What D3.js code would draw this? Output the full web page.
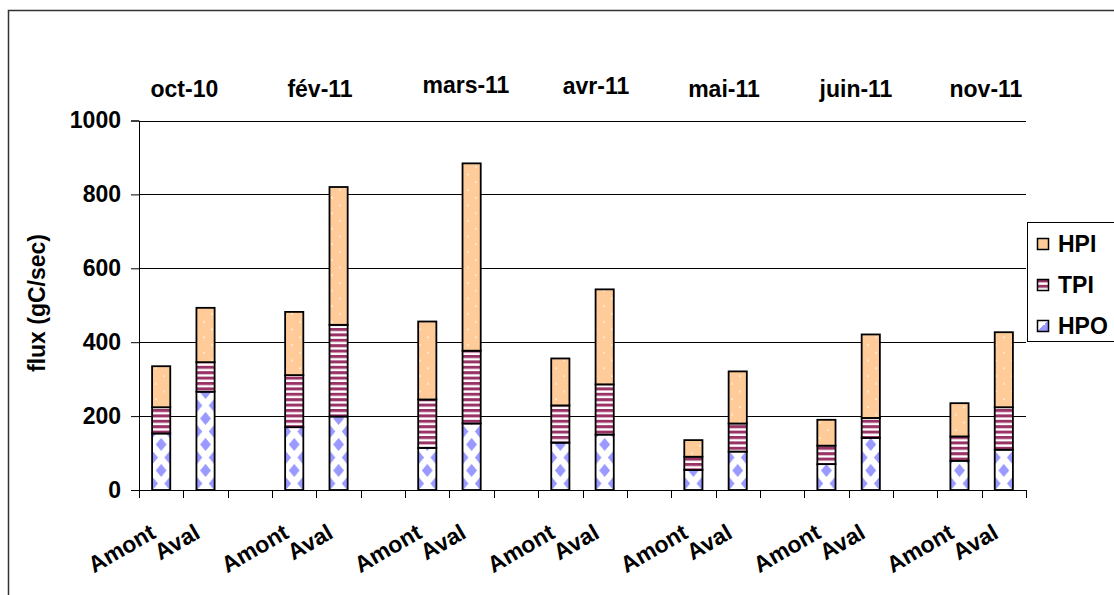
<!DOCTYPE html>
<html><head><meta charset="utf-8">
<script src="https://cdn.jsdelivr.net/npm/d3@7"></script>
<style>
html,body{margin:0;padding:0;background:#fff;}
svg{display:block;font-family:"Liberation Sans",Arial,sans-serif;font-weight:bold;}
</style></head>
<body>
<svg id="c" width="1114" height="595"></svg>
<script>
// ---- data ----
const months = ["oct-10","fév-11","mars-11","avr-11","mai-11","juin-11","nov-11"];
const sites = ["Amont","Aval"];
const seriesKeys = ["HPO","TPI","HPI"];
const HPO = [153,266, 170,199, 114,180, 128,150, 54,104, 70,141, 79,109];
const TPI = [71,80, 141,248, 131,197, 101,136, 36,76, 50,54, 66,115];
const HPI = [111,147, 171,373, 211,507, 127,257, 45,141, 70,226, 90,203];
const yTicks = [0,200,400,600,800,1000];
const yLabel = "flux (gC/sec)";
const legendOrder = ["HPI","TPI","HPO"];

// ---- build rows ----
const rows = [];
const domain = [];
months.forEach((m, g) => {
  sites.forEach((s, j) => {
    const i = g*2 + j;
    const key = m + "|" + s;
    domain.push(key);
    rows.push({key, month:m, site:s, HPO:HPO[i], TPI:TPI[i], HPI:HPI[i]});
  });
  if (g < months.length - 1) domain.push("gap" + g);
});

const FS = 23;
const svg = d3.select("#c");
const L = 139, R = 1026, T = 120.5, B = 490;
const x = d3.scaleBand().domain(domain).range([L, R]).paddingInner(0).paddingOuter(0);
const y = d3.scaleLinear().domain([0, 1000]).range([B, T]);
const barW = x.bandwidth() * 0.41;

// outer chart frame
svg.append("rect").attr("x", 8.5).attr("y", 10.5).attr("width", 1130).attr("height", 620)
  .attr("fill", "none").attr("stroke", "#333").attr("stroke-width", 1.5);

const defs = svg.append("defs");
// HPI dotted peach
const pHPI = defs.append("pattern").attr("id","pHPI").attr("patternUnits","userSpaceOnUse")
  .attr("width",16).attr("height",15.5);
pHPI.append("rect").attr("width",16).attr("height",15.5).attr("fill","#FFCC99");
pHPI.append("circle").attr("cx",4).attr("cy",4).attr("r",0.9).attr("fill","#FFF6E6");
pHPI.append("circle").attr("cx",12).attr("cy",11.75).attr("r",0.9).attr("fill","#FFF6E6");
// TPI stripes
const pTPI = defs.append("pattern").attr("id","pTPI").attr("patternUnits","userSpaceOnUse")
  .attr("width",8).attr("height",5.4).attr("y", B);
pTPI.append("rect").attr("width",8).attr("height",5.4).attr("fill","#fff");
pTPI.append("rect").attr("y",0).attr("width",8).attr("height",2.9).attr("fill","#993366");
pTPI.append("rect").attr("y",2.9).attr("width",8).attr("height",0.6).attr("fill","#d9a6bf");

// HPO diamonds: one pattern per bar, aligned to bar
function hpoPattern(id, x0, w) {
  const h = 26;
  const p = defs.append("pattern").attr("id", id).attr("patternUnits","userSpaceOnUse")
    .attr("x", x0).attr("y", B).attr("width", w).attr("height", h);
  p.append("rect").attr("width", w).attr("height", h).attr("fill", "#fff");
  const dx = 5.4, dy = 6.6;
  const dia = (cx, cy) => `M${cx},${cy-dy}L${cx+dx},${cy}L${cx},${cy+dy}L${cx-dx},${cy}Z`;
  p.append("path").attr("d", dia(w/2, 6.5)).attr("fill", "#9999FF");
  p.append("path").attr("d", dia(0.5, 19.5) + dia(w - 0.5, 19.5)).attr("fill", "#9999FF");
  return "url(#" + id + ")";
}

// gridlines
svg.append("g").selectAll("line").data(yTicks.filter(t => t > 0)).join("line")
  .attr("x1", L).attr("x2", R).attr("y1", d => Math.round(y(d)) + 0.5).attr("y2", d => Math.round(y(d)) + 0.5)
  .attr("stroke", "#000").attr("stroke-width", 1);

// stacked bars
const stack = d3.stack().keys(seriesKeys)(rows);
const fills = {HPI: "url(#pHPI)", TPI: "url(#pTPI)"};
const barsG = svg.append("g");
stack.forEach(layer => {
  barsG.append("g").selectAll("rect").data(layer).join("rect")
    .attr("x", d => x(d.data.key) + (x.bandwidth() - barW) / 2)
    .attr("width", barW)
    .attr("y", d => y(d[1]))
    .attr("height", d => y(d[0]) - y(d[1]))
    .attr("fill", (d, i) => layer.key === "HPO"
      ? hpoPattern("pHPO" + i, x(d.data.key) + (x.bandwidth() - barW) / 2, barW)
      : fills[layer.key])
    .attr("stroke", "#000").attr("stroke-width", 1.8);
});

// y axis
const yAxis = svg.append("g").attr("transform", `translate(${L},0)`)
  .call(d3.axisLeft(y).tickValues(yTicks).tickSize(8).tickPadding(10).tickFormat(d3.format("d")));
yAxis.select(".domain").attr("stroke", "#000");
yAxis.selectAll(".tick line").attr("stroke", "#000");
yAxis.selectAll("text").attr("font-size", FS).attr("font-weight", "bold")
  .attr("font-family", "Liberation Sans, Arial, sans-serif").attr("fill", "#000");

// x axis (ticks at category boundaries)
const bounds = domain.map(k => x(k)).concat([R]);
svg.append("line").attr("x1", L).attr("x2", R).attr("y1", B + 0.5).attr("y2", B + 0.5).attr("stroke", "#000");
svg.append("g").selectAll("line").data(bounds).join("line")
  .attr("x1", d => Math.round(d) + 0.5).attr("x2", d => Math.round(d) + 0.5)
  .attr("y1", B).attr("y2", B + 8).attr("stroke", "#000");

// x labels rotated
svg.append("g").selectAll("text").data(rows).join("text")
  .attr("transform", d => `translate(${x(d.key) + x.bandwidth() / 2 - 4},${537}) rotate(-30)`)
  .attr("text-anchor", "end").attr("font-size", FS).attr("fill", "#000")
  .text(d => d.site);

// month labels above groups
const monthNudge = [1, 3.6, 16.5, 13.5, 8.4, 7.4, 4.3];
const monthBase = [97, 97, 93, 94, 97, 97, 97];
svg.append("g").selectAll("text").data(months).join("text")
  .attr("x", (m, g) => x(m + "|Aval") + monthNudge[g])
  .attr("y", (m, g) => monthBase[g])
  .attr("text-anchor", "middle").attr("font-size", FS).attr("fill", "#000")
  .text(m => m);

// y label
svg.append("text").attr("transform", `translate(45,303) rotate(-90)`)
  .attr("text-anchor", "middle").attr("font-size", FS).attr("fill", "#000").text(yLabel);

// legend
const lg = svg.append("g");
lg.append("rect").attr("x", 1027.5).attr("y", 222.5).attr("width", 120).attr("height", 119)
  .attr("fill", "#fff").attr("stroke", "#000").attr("stroke-width", 1);
const legY = {HPI: 244, TPI: 285, HPO: 326};
const legFill = {HPI: "url(#pHPI)", TPI: "url(#pTPI)"};
const legHPO = defs.append("linearGradient").attr("id", "gLegHPO").attr("x1", 0).attr("y1", 0).attr("x2", 1).attr("y2", 1);
legHPO.append("stop").attr("offset", "0.5").attr("stop-color", "#fff");
legHPO.append("stop").attr("offset", "0.5").attr("stop-color", "#9999FF");
legendOrder.forEach(k => {
  lg.append("rect").attr("x", 1037.5).attr("y", legY[k] - 5.5).attr("width", 11).attr("height", 11)
    .attr("fill", k === "HPO" ? "url(#gLegHPO)" : legFill[k]).attr("stroke", "#000").attr("stroke-width", 1.5);
  lg.append("text").attr("x", 1058).attr("y", legY[k] + 8).attr("font-size", FS).attr("fill", "#000").text(k);
});
</script>
</body></html>
